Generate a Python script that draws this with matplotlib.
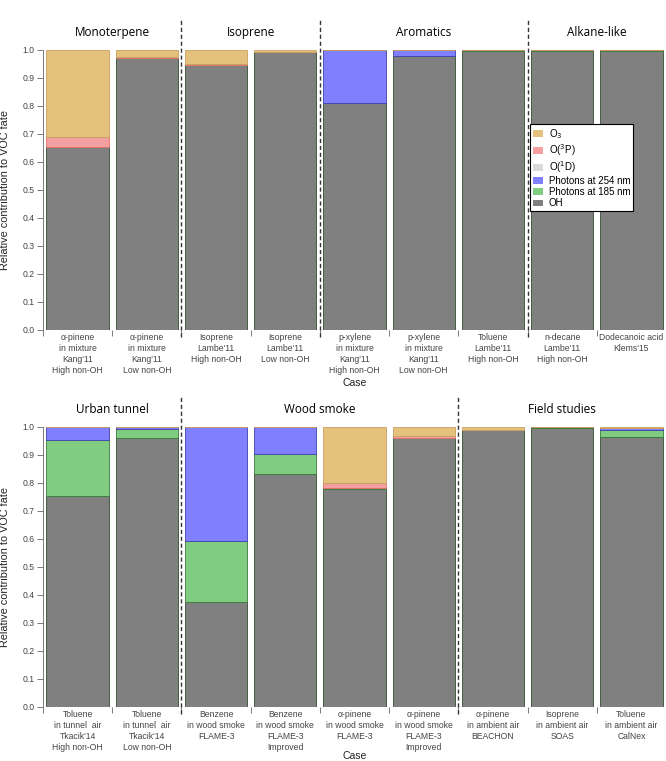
"""
Relative contribution of each oxidant to the fate of VOCs, by case.
"""
import numpy as np
import matplotlib
matplotlib.use('Agg')
import matplotlib.pyplot as plt
from matplotlib.patches import Patch

# Stack order, bottom to top
series = ['OH', 'Photons at 185 nm', 'Photons at 254 nm', 'O(1D)', 'O(3P)', 'O3']
legend_labels = {
    'O3': 'O$_3$',
    'O(3P)': 'O($^3$P)',
    'O(1D)': 'O($^1$D)',
    'Photons at 254 nm': 'Photons at 254 nm',
    'Photons at 185 nm': 'Photons at 185 nm',
    'OH': 'OH',
}
colors = {
    'OH': '#808080',
    'Photons at 185 nm': '#80cc80',
    'Photons at 254 nm': '#8080ff',
    'O(1D)': '#d9d9d9',
    'O(3P)': '#f4a0a0',
    'O3': '#e4c27d',
}
edges = {
    'OH': '#2f4f2f',
    'Photons at 185 nm': '#3a7a3a',
    'Photons at 254 nm': '#4040b0',
    'O(1D)': '#a0a0a0',
    'O(3P)': '#e07060',
    'O3': '#c8a060',
}

# ---- top panel: laboratory cases ----
top_cases = [
    'α-pinene\nin mixture\nKang\'11\nHigh non-OH',
    'α-pinene\nin mixture\nKang\'11\nLow non-OH',
    'Isoprene\nLambe\'11\nHigh non-OH',
    'Isoprene\nLambe\'11\nLow non-OH',
    'p-xylene\nin mixture\nKang\'11\nHigh non-OH',
    'p-xylene\nin mixture\nKang\'11\nLow non-OH',
    'Toluene\nLambe\'11\nHigh non-OH',
    'n-decane\nLambe\'11\nHigh non-OH',
    'Dodecanoic acid\nKlems\'15',
]
top_oh = [0.652, 0.970, 0.945, 0.993, 0.812, 0.978, 0.996, 0.998, 0.995]
top_185 = [0.0, 0.0, 0.0, 0.0, 0.0, 0.0, 0.003, 0.002, 0.005]
top_254 = [0.0, 0.0, 0.0, 0.0, 0.188, 0.022, 0.001, 0.0, 0.0]
top_o1d = [0.0, 0.0, 0.0, 0.0, 0.0, 0.0, 0.0, 0.0, 0.0]
top_o3p = [0.036, 0.006, 0.005, 0.0, 0.0, 0.0, 0.0, 0.0, 0.0]
top_o3 = [0.312, 0.024, 0.050, 0.007, 0.0, 0.0, 0.0, 0.0, 0.0]
top_groups = ['Monoterpene', 'Isoprene', 'Aromatics', 'Alkane-like']
top_group_sizes = [2, 2, 3, 2]

# ---- bottom panel: ambient / source cases ----
bot_cases = [
    'Toluene\nin tunnel  air\nTkacik\'14\nHigh non-OH',
    'Toluene\nin tunnel  air\nTkacik\'14\nLow non-OH',
    'Benzene\nin wood smoke\nFLAME-3',
    'Benzene\nin wood smoke\nFLAME-3\nImproved',
    'α-pinene\nin wood smoke\nFLAME-3',
    'α-pinene\nin wood smoke\nFLAME-3\nImproved',
    'α-pinene\nin ambient air\nBEACHON',
    'Isoprene\nin ambient air\nSOAS',
    'Toluene\nin ambient air\nCalNex',
]
bot_oh = [0.754, 0.960, 0.376, 0.832, 0.778, 0.961, 0.988, 0.998, 0.964]
bot_185 = [0.199, 0.032, 0.217, 0.072, 0.004, 0.0, 0.0, 0.001, 0.027]
bot_254 = [0.047, 0.008, 0.407, 0.096, 0.0, 0.0, 0.0, 0.0, 0.007]
bot_o1d = [0.0, 0.0, 0.0, 0.0, 0.0, 0.0, 0.0, 0.0, 0.0]
bot_o3p = [0.0, 0.0, 0.0, 0.0, 0.018, 0.006, 0.0, 0.0, 0.0]
bot_o3 = [0.0, 0.0, 0.0, 0.0, 0.200, 0.033, 0.012, 0.001, 0.002]
bot_groups = ['Urban tunnel', 'Wood smoke', 'Field studies']
bot_group_sizes = [2, 4, 3]

plt.rcParams['font.family'] = ['Liberation Sans', 'DejaVu Sans']


def draw_panel(ax, cases, values, groups, sizes, case_y):
    x = np.arange(len(cases))
    bottom = np.zeros(len(cases))
    for name, vals in zip(series, values):
        vals = np.array(vals)
        ax.bar(x, vals, width=0.9, bottom=bottom, color=colors[name],
               edgecolor=edges[name], linewidth=0.6)
        bottom += vals

    ax.set_xlim(-0.5, len(cases) - 0.5)
    ax.set_ylim(0, 1.0)
    ticks = np.arange(0, 1.01, 0.1)
    ax.set_yticks(ticks)
    ax.set_yticklabels([f'{v:.1f}' for v in ticks], fontsize=6.2)
    ax.set_xticks(x)
    ax.set_xticklabels(cases, fontsize=6.2, color='#444444', linespacing=1.3)
    ax.tick_params(axis='x', length=0, pad=2)
    ax.set_xticks(np.arange(-0.5, len(cases)), minor=True)
    ax.tick_params(axis='x', which='minor', length=4, color='#666666',
                   width=0.6)
    ax.tick_params(axis='y', length=4, color='#666666', width=0.6,
                   labelcolor='#444444', pad=2)
    for side in ['top', 'right', 'bottom']:
        ax.spines[side].set_visible(False)
    ax.spines['left'].set_color('#666666')
    ax.spines['left'].set_linewidth(0.6)
    ax.set_ylabel('Relative contribution to VOC fate', fontsize=7.8,
                  color='#222222')
    ax.yaxis.set_label_coords(-0.053, 0.5)
    ax.set_xlabel('Case', fontsize=7.5, color='#222222', va='center')
    ax.xaxis.set_label_coords(0.5, case_y)

    # group separators and titles
    start = 0
    for i, (g, n) in enumerate(zip(groups, sizes)):
        center = start + (n - 1) / 2
        ax.text(center, 1.063, g, ha='center', va='center', fontsize=8.5,
                family=['Open Sans', 'DejaVu Sans'])
        start += n
        if i < len(groups) - 1:
            ax.plot([start - 0.5, start - 0.5], [-0.025, 1.11], ls=(0, (3, 2)),
                    color='#333333', lw=1.0, clip_on=False, zorder=5)


fig = plt.figure(figsize=(6.66, 7.61), dpi=100)
ax1 = fig.add_axes([0.0646, 0.5664, 0.9354, 0.3679])
ax2 = fig.add_axes([0.0646, 0.0710, 0.9354, 0.3679])

draw_panel(ax1, top_cases, [top_oh, top_185, top_254, top_o1d, top_o3p, top_o3],
           top_groups, top_group_sizes, -0.188)
draw_panel(ax2, bot_cases, [bot_oh, bot_185, bot_254, bot_o1d, bot_o3p, bot_o3],
           bot_groups, bot_group_sizes, -0.176)

handles = [Patch(facecolor=colors[s], edgecolor='none') for s in series[::-1]]
leg = ax1.legend(handles, [legend_labels[s] for s in series[::-1]],
                 loc='upper left', bbox_to_anchor=(0.782, 0.735), fontsize=7,
                 frameon=True, fancybox=False, framealpha=1.0,
                 handlelength=1.0, handleheight=0.7, labelspacing=0.12,
                 borderpad=0.3, handletextpad=0.6, borderaxespad=0)
leg.get_frame().set_edgecolor('black')
leg.get_frame().set_linewidth(0.8)

fig.savefig('out.png', dpi=100)
